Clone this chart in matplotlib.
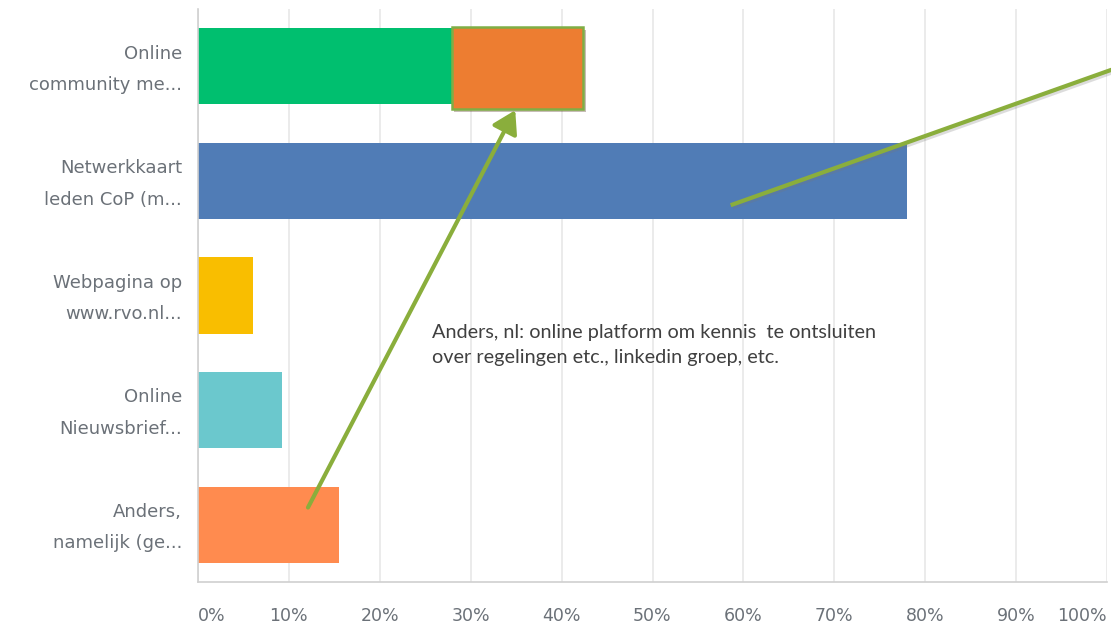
import matplotlib
matplotlib.use("Agg")
import matplotlib.pyplot as plt
import matplotlib.patheffects as pe
from matplotlib.patches import Rectangle
from matplotlib.transforms import offset_copy

# ---- data ----
categories = ["Online\ncommunity me...", "Netwerkkaart\nleden CoP (m...",
              "Webpagina op\nwww.rvo.nl...", "Online\nNieuwsbrief...",
              "Anders,\nnamelijk (ge..."]
values = [27.9, 78.0, 6.1, 9.2, 15.5]
bar_colors = ["#00BF6F", "#507CB6", "#F9BE00", "#6BC8CD", "#FF8B4F"]
xticks = [0, 10, 20, 30, 40, 50, 60, 70, 80, 90, 100]
xtick_labels = [f"{t}%" for t in xticks]

# highlight box (annotation) and arrows, in data coords
highlight_x = [27.9, 42.4]
highlight_y = [-0.345, 0.374]
arrow1 = [(12.1, 3.85), (34.9, 0.383)]
line2 = [(58.6, 1.212), (100.5, 0.03)]
note_text = "Anders, nl: online platform om kennis  te ontsluiten\nover regelingen etc., linkedin groep, etc."

W, H = 1111, 627
fig = plt.figure(figsize=(W / 100, H / 100), dpi=100)
ax = fig.add_axes([198 / W, 1 - 582 / H, (1107 - 198) / W, (582 - 9) / H])

ypos = list(range(len(categories)))
ax.barh(ypos, values, height=0.664, color=bar_colors, zorder=2)
ax.set_xlim(0, 100)
ax.set_ylim(4.5, -0.5)

tick_color = "#6B7178"
ax.set_xticks(xticks)
ax.set_xticklabels(xtick_labels)
ax.tick_params(axis="x", length=0, pad=18, labelsize=12.5, labelcolor=tick_color)
for t in ax.get_xticklabels():
    t.set_fontfamily("DejaVu Sans")
xl = ax.get_xticklabels()
xl[0].set_horizontalalignment("left")
xl[-1].set_horizontalalignment("right")

# category labels (y axis), drawn at the category positions
ax.set_yticks(ypos)
ax.set_yticklabels([])
ax.tick_params(axis="y", length=0)
label_tr = offset_copy(ax.get_yaxis_transform(), fig=fig, x=-16, y=-3, units="dots")
for yv, lab in zip(ypos, categories):
    ax.text(0, yv, lab, transform=label_tr, ha="right", va="center",
            fontsize=13, family="DejaVu Sans", color=tick_color,
            linespacing=1.97, multialignment="right")

ax.grid(axis="x", color="#E8E8E8", linewidth=1.2, zorder=0)
ax.set_axisbelow(True)
for s in ["top", "right"]:
    ax.spines[s].set_visible(False)
ax.spines["left"].set_color("#D0D0D0")
ax.spines["bottom"].set_color("#D0D0D0")
ax.spines["left"].set_linewidth(1.2)
ax.spines["bottom"].set_linewidth(1.2)

shadow = [pe.SimplePatchShadow(offset=(2, -2), alpha=0.3), pe.Normal()]
rect = Rectangle((highlight_x[0], highlight_y[0]), highlight_x[1] - highlight_x[0],
                 highlight_y[1] - highlight_y[0], facecolor="#ED7D31",
                 edgecolor="#7FAE45", linewidth=1.8, zorder=4, path_effects=shadow)
ax.add_patch(rect)

green = "#8AAE3C"
lshadow = [pe.SimpleLineShadow(offset=(1.5, -1.5), shadow_color="#777777", alpha=0.25), pe.Normal()]
ax.annotate("", xy=arrow1[1], xytext=arrow1[0],
            arrowprops=dict(arrowstyle="-|>,head_length=0.9,head_width=0.55",
                            mutation_scale=15, color=green, linewidth=3.0,
                            shrinkA=0, shrinkB=0),
            zorder=5, annotation_clip=False)
ax.plot([line2[0][0], line2[1][0]], [line2[0][1], line2[1][1]], color=green,
        linewidth=3.0, solid_capstyle="butt", zorder=5, clip_on=False,
        path_effects=lshadow)

fig.text(432 / W, 1 - 363 / H, note_text, fontsize=14.3, family="Lato",
         color="#404040", ha="left", va="baseline", linespacing=1.55)

fig.savefig("out.png", dpi=100, facecolor="white")
